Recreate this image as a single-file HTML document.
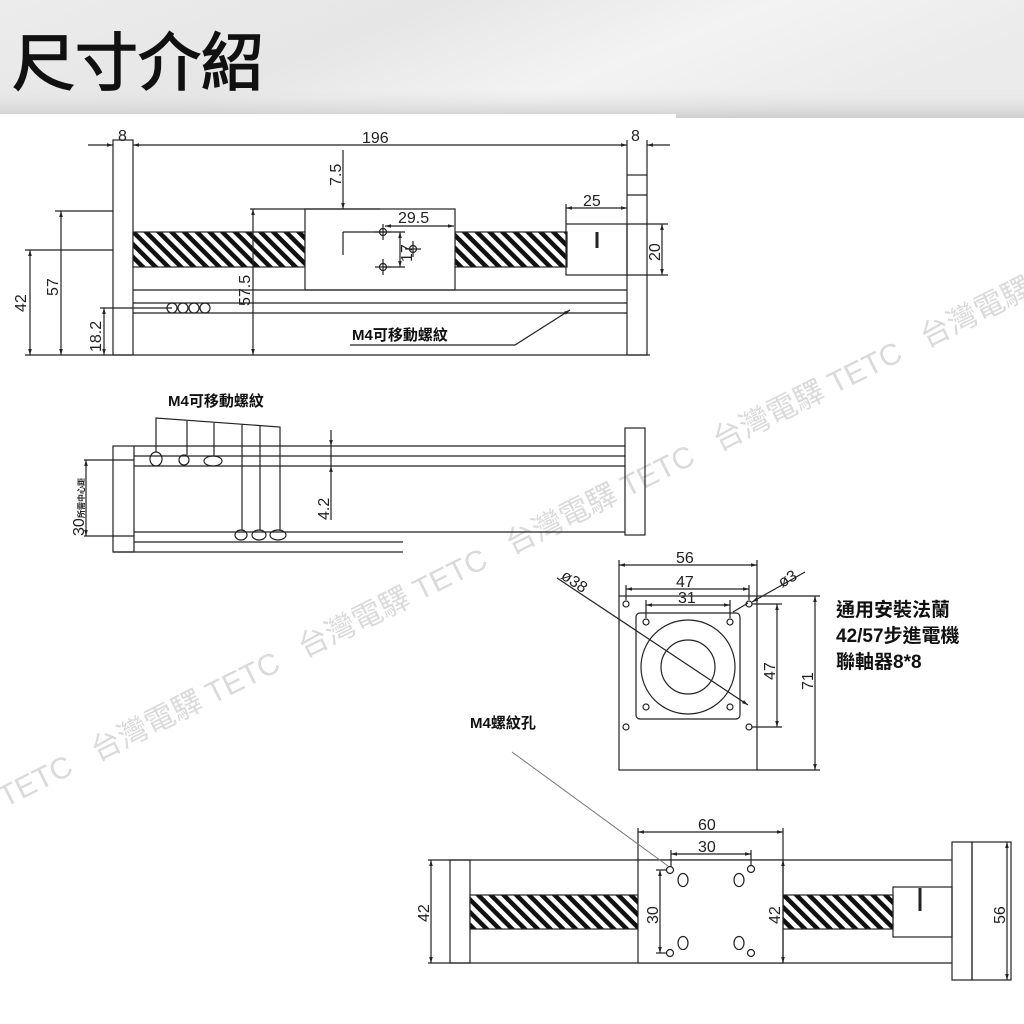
<!DOCTYPE html>
<html><head><meta charset="utf-8"><style>
html,body{margin:0;padding:0;width:1024px;height:1024px;overflow:hidden;background:#fff}
svg{display:block}
text{font-family:"Liberation Sans","Noto Sans CJK TC",sans-serif}
</style></head><body>
<svg width="1024" height="1024" viewBox="0 0 1024 1024" xmlns="http://www.w3.org/2000/svg">
<defs>
<linearGradient id="hg" x1="0" y1="0" x2="1" y2="0.3">
<stop offset="0" stop-color="#ececec"/><stop offset="0.4" stop-color="#e6e6e6"/><stop offset="0.7" stop-color="#f3f3f3"/><stop offset="1" stop-color="#ebebeb"/>
</linearGradient>
<linearGradient id="hb" x1="0" y1="0" x2="0" y2="1">
<stop offset="0" stop-color="#e8e8e8" stop-opacity="0"/><stop offset="1" stop-color="#cfcfcf"/>
</linearGradient>
<pattern id="hatch" width="9" height="9" patternUnits="userSpaceOnUse" patternTransform="rotate(-45)">
<rect width="9" height="9" fill="#fff"/><rect x="0" y="0" width="4.5" height="9" fill="#111"/>
</pattern>
<marker id="a" viewBox="0 0 10 10" refX="10" refY="5" markerWidth="7" markerHeight="5" orient="auto-start-reverse"><path d="M0,2 L10,5 L0,8z" fill="#222"/></marker>
</defs>
<rect x="0" y="0" width="1024" height="118" fill="url(#hg)"/>
<rect x="0" y="88" width="1024" height="30" fill="url(#hb)"/>
<rect x="0" y="114" width="676" height="910" fill="#fff"/>
<rect x="0" y="118" width="1024" height="906" fill="#fff"/>
<text x="12" y="85" font-size="63" fill="#111" stroke="#111" stroke-width="1.5">尺寸介紹</text>

<!-- watermark -->
<g fill="#dadada" font-size="30" transform="translate(-110,865) rotate(-26.5)">
<text x="0" y="0" xml:space="preserve">台灣電驛 TETC   台灣電驛 TETC   台灣電驛 TETC   台灣電驛 TETC   台灣電驛 TETC   台灣電驛 TETC</text>
</g>

<g fill="none" stroke="#222" stroke-width="1.2">
<!-- TOP VIEW -->
<rect x="113" y="140" width="20" height="215"/>
<rect x="627" y="175" width="20" height="180"/>
<line x1="627" y1="140" x2="627" y2="175"/><line x1="647" y1="140" x2="647" y2="175"/>
<line x1="627" y1="195" x2="647" y2="195"/>
<line x1="25" y1="355" x2="650" y2="355"/>
<rect x="133" y="232" width="172" height="35" fill="url(#hatch)"/>
<rect x="455" y="232" width="112" height="35" fill="url(#hatch)"/>
<rect x="305" y="209" width="150" height="81" fill="#fff"/>
<rect x="566" y="224" width="61" height="51"/>
<line x1="597" y1="232" x2="597" y2="248" stroke-width="3"/>
<line x1="133" y1="290" x2="627" y2="290"/>
<line x1="133" y1="303" x2="627" y2="303"/>
<line x1="133" y1="313" x2="627" y2="313"/>
<circle cx="172" cy="308" r="5"/><circle cx="183" cy="308" r="5"/><circle cx="194" cy="308" r="5"/><circle cx="205" cy="308" r="5"/>
<line x1="88" y1="145" x2="113" y2="145" marker-end="url(#a)"/>
<line x1="133" y1="145" x2="627" y2="145" marker-start="url(#a)" marker-end="url(#a)"/>
<line x1="670" y1="145" x2="647" y2="145" marker-end="url(#a)"/>
<line x1="55" y1="211" x2="113" y2="211"/>
<line x1="25" y1="250" x2="113" y2="250"/>
<line x1="30" y1="250" x2="30" y2="355" marker-start="url(#a)" marker-end="url(#a)"/>
<line x1="61" y1="211" x2="61" y2="355" marker-start="url(#a)" marker-end="url(#a)"/>
<line x1="100" y1="308" x2="172" y2="308"/>
<line x1="104" y1="308" x2="104" y2="355" marker-start="url(#a)" marker-end="url(#a)"/>
<line x1="250" y1="209" x2="380" y2="209"/>
<line x1="253" y1="209" x2="253" y2="355" marker-start="url(#a)" marker-end="url(#a)"/>
<line x1="343" y1="150" x2="343" y2="209" marker-end="url(#a)"/>
<line x1="343" y1="232" x2="343" y2="255"/>
<line x1="343" y1="232" x2="383" y2="232"/>
<line x1="385" y1="226" x2="454" y2="226" marker-start="url(#a)" marker-end="url(#a)"/>
<line x1="383" y1="232" x2="405" y2="232"/><line x1="383" y1="267" x2="405" y2="267"/>
<line x1="400" y1="232" x2="400" y2="267" marker-start="url(#a)" marker-end="url(#a)"/>
<circle cx="383" cy="232" r="3.5"/><circle cx="383" cy="267" r="3.5"/><circle cx="413" cy="249" r="3.5"/>
<line x1="383" y1="224" x2="383" y2="240"/><line x1="375" y1="232" x2="391" y2="232"/>
<line x1="383" y1="259" x2="383" y2="275"/><line x1="375" y1="267" x2="391" y2="267"/>
<line x1="413" y1="241" x2="413" y2="257"/><line x1="405" y1="249" x2="421" y2="249"/>
<line x1="566" y1="208" x2="627" y2="208" marker-start="url(#a)" marker-end="url(#a)"/>
<line x1="566" y1="204" x2="566" y2="224"/>
<line x1="627" y1="224" x2="668" y2="224"/><line x1="627" y1="275" x2="668" y2="275"/>
<line x1="662" y1="224" x2="662" y2="275" marker-start="url(#a)" marker-end="url(#a)"/>
<polyline points="350,345 515,345 570,310" marker-end="url(#a)"/>

<!-- MIDDLE VIEW -->
<rect x="113" y="446" width="21" height="106"/>
<rect x="625" y="428" width="20" height="107"/>
<line x1="134" y1="446" x2="625" y2="446"/>
<line x1="134" y1="456" x2="625" y2="456"/>
<line x1="134" y1="466" x2="625" y2="466"/>
<line x1="134" y1="532" x2="625" y2="532"/>
<line x1="134" y1="542" x2="403" y2="542"/>
<line x1="113" y1="552" x2="403" y2="552"/>
<line x1="84" y1="460" x2="134" y2="460"/><line x1="84" y1="536" x2="134" y2="536"/>
<line x1="86" y1="460" x2="86" y2="536" marker-start="url(#a)" marker-end="url(#a)"/>
<line x1="331" y1="430" x2="331" y2="446" marker-end="url(#a)"/>
<line x1="331" y1="446" x2="331" y2="466"/>
<line x1="331" y1="520" x2="331" y2="466" marker-end="url(#a)"/>
<ellipse cx="156" cy="459" rx="6" ry="7"/><ellipse cx="184" cy="460" rx="5" ry="5"/><ellipse cx="213" cy="461" rx="9" ry="5"/>
<ellipse cx="241" cy="535" rx="6" ry="5"/><ellipse cx="259" cy="535" rx="7" ry="5"/><ellipse cx="278" cy="535" rx="8" ry="5"/>
<polyline points="156,452 156,418 280,427 280,530"/>
<line x1="187" y1="455" x2="187" y2="421"/>
<line x1="214" y1="456" x2="214" y2="423"/>
<line x1="242" y1="530" x2="242" y2="424"/>
<line x1="260" y1="530" x2="260" y2="425"/>

<!-- FLANGE VIEW -->
<rect x="619" y="596" width="138" height="174"/>
<rect x="636" y="613" width="104" height="106" rx="4"/>
<circle cx="688" cy="667" r="47"/><circle cx="688" cy="667" r="27"/>
<circle cx="626" cy="604" r="3"/><circle cx="749" cy="604" r="3"/><circle cx="626" cy="727" r="3"/><circle cx="749" cy="727" r="3"/>
<circle cx="646" cy="622" r="3"/><circle cx="730" cy="622" r="3"/><circle cx="646" cy="707" r="3"/><circle cx="730" cy="707" r="3"/>
<line x1="619" y1="560" x2="619" y2="596"/><line x1="757" y1="560" x2="757" y2="596"/>
<line x1="619" y1="565" x2="757" y2="565" marker-start="url(#a)" marker-end="url(#a)"/>
<line x1="626" y1="585" x2="626" y2="600"/><line x1="749" y1="585" x2="749" y2="600"/>
<line x1="626" y1="589" x2="749" y2="589" marker-start="url(#a)" marker-end="url(#a)"/>
<line x1="646" y1="600" x2="646" y2="618"/><line x1="730" y1="600" x2="730" y2="618"/>
<line x1="646" y1="605" x2="730" y2="605" marker-start="url(#a)" marker-end="url(#a)"/>
<line x1="752" y1="604" x2="782" y2="604"/><line x1="752" y1="727" x2="782" y2="727"/>
<line x1="777" y1="604" x2="777" y2="727" marker-start="url(#a)" marker-end="url(#a)"/>
<line x1="757" y1="596" x2="820" y2="596"/><line x1="757" y1="770" x2="820" y2="770"/>
<line x1="815" y1="596" x2="815" y2="770" marker-start="url(#a)" marker-end="url(#a)"/>
<line x1="557" y1="578" x2="748" y2="705" marker-end="url(#a)"/>
<line x1="805" y1="572" x2="752" y2="602" marker-end="url(#a)"/>
<line x1="748" y1="603" x2="733" y2="612"/>

<!-- BOTTOM VIEW -->
<rect x="450" y="860" width="20" height="103"/>
<line x1="428" y1="860" x2="952" y2="860"/>
<line x1="428" y1="963" x2="952" y2="963"/>
<rect x="470" y="895" width="168" height="34" fill="url(#hatch)"/>
<rect x="783" y="895" width="110" height="34" fill="url(#hatch)"/>
<rect x="638" y="860" width="145" height="103" fill="#fff"/>
<rect x="893" y="887" width="59" height="50"/>
<line x1="920" y1="888" x2="920" y2="911" stroke-width="3"/>
<rect x="952" y="842" width="20" height="138"/>
<rect x="972" y="842" width="39" height="138"/>
<line x1="431" y1="860" x2="431" y2="963" marker-start="url(#a)" marker-end="url(#a)"/>
<line x1="783" y1="860" x2="783" y2="963" marker-start="url(#a)" marker-end="url(#a)"/>
<line x1="1007" y1="842" x2="1007" y2="980" marker-start="url(#a)" marker-end="url(#a)"/>
<line x1="638" y1="828" x2="638" y2="860"/><line x1="783" y1="828" x2="783" y2="860"/>
<line x1="638" y1="832" x2="783" y2="832" marker-start="url(#a)" marker-end="url(#a)"/>
<line x1="671" y1="850" x2="671" y2="866"/><line x1="751" y1="850" x2="751" y2="866"/>
<line x1="671" y1="854" x2="751" y2="854" marker-start="url(#a)" marker-end="url(#a)"/>
<line x1="656" y1="870" x2="667" y2="870"/><line x1="656" y1="953" x2="667" y2="953"/>
<line x1="660" y1="870" x2="660" y2="953" marker-start="url(#a)" marker-end="url(#a)"/>
<circle cx="670" cy="870" r="3.5"/><circle cx="751" cy="869" r="3.5"/><circle cx="670" cy="953" r="3.5"/><circle cx="751" cy="953" r="3.5"/>
<ellipse cx="683" cy="880" rx="5" ry="6.5"/><ellipse cx="739" cy="880" rx="5" ry="6.5"/><ellipse cx="683" cy="943" rx="5" ry="6.5"/><ellipse cx="739" cy="943" rx="5" ry="6.5"/>
<line x1="512" y1="752" x2="668" y2="866" stroke="#777" stroke-width="1"/>
</g>

<g fill="#222" font-size="16">
<text x="118" y="141">8</text>
<text x="362" y="143">196</text>
<text x="631" y="141">8</text>
<text transform="translate(341,186) rotate(-90)">7.5</text>
<text x="398" y="223">29.5</text>
<text transform="translate(412,262) rotate(-90)">17</text>
<text x="583" y="206">25</text>
<text transform="translate(660,261) rotate(-90)">20</text>
<text transform="translate(26,312) rotate(-90)">42</text>
<text transform="translate(58,296) rotate(-90)">57</text>
<text transform="translate(101,352) rotate(-90)">18.2</text>
<text transform="translate(250,306) rotate(-90)">57.5</text>
<text transform="translate(329,520) rotate(-90)">4.2</text>
<text transform="translate(84,536) rotate(-90)">30</text>
<text transform="translate(84,518) rotate(-90)" font-size="8" font-weight="bold">所需中心距</text>
<text x="676" y="563">56</text>
<text x="676" y="587">47</text>
<text x="678" y="603">31</text>
<text transform="translate(775,680) rotate(-90)">47</text>
<text transform="translate(813,690) rotate(-90)">71</text>
<text transform="translate(560,578) rotate(34)">ø38</text>
<text transform="translate(782,588) rotate(-30)">ø3</text>
<text x="698" y="830">60</text>
<text x="698" y="852">30</text>
<text transform="translate(429,922) rotate(-90)">42</text>
<text transform="translate(658,924) rotate(-90)">30</text>
<text transform="translate(780,924) rotate(-90)">42</text>
<text transform="translate(1005,924) rotate(-90)">56</text>
</g>
<g fill="#111" font-size="15" font-weight="bold">
<text x="352" y="340">M4可移動螺紋</text>
<text x="168" y="406">M4可移動螺紋</text>
<text x="470" y="728">M4螺紋孔</text>
</g>
<g fill="#111" font-size="19" font-weight="bold">
<text x="836" y="616">通用安裝法蘭</text>
<text x="836" y="642">42/57步進電機</text>
<text x="836" y="668">聯軸器8*8</text>
</g>
</svg>
</body></html>
